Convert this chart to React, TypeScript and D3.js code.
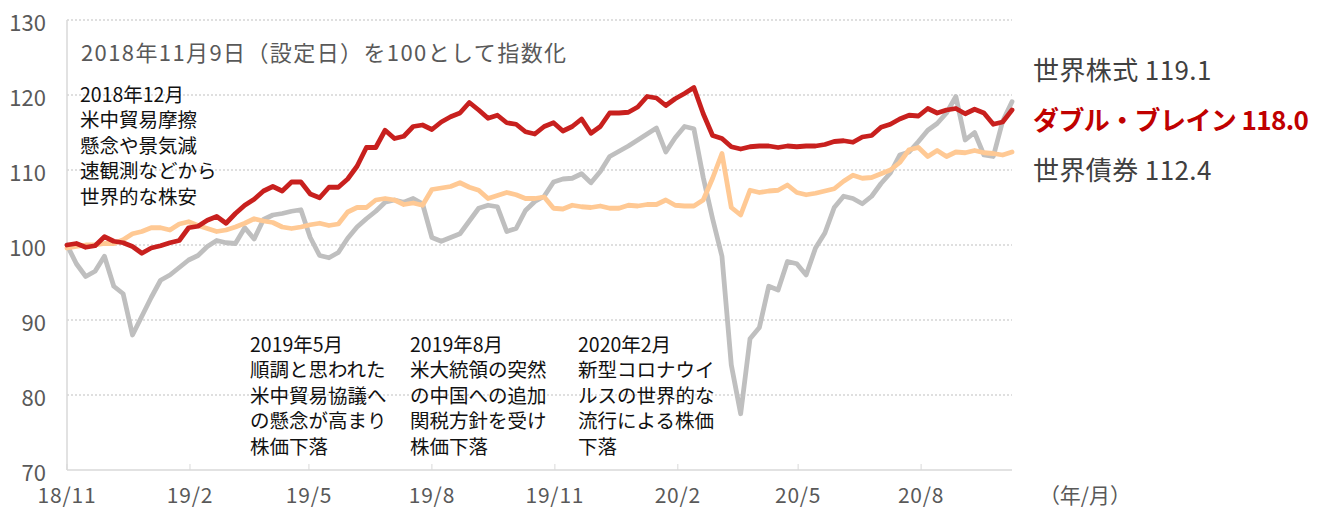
import React from "react";
import * as d3 from "d3";

const WIDTH = 1319;
const HEIGHT = 510;
const PLOT = { left: 67, right: 1012, top: 20, bottom: 470 };
const FONT = "'Noto Sans CJK JP', 'Noto Sans', sans-serif";

const START = new Date(2018, 10, 9);
const WEEKS = 101;

// 世界株式 (weekly, index 2018/11/9 = 100)
const stocks = [
  100.0, 97.5, 95.8, 96.5, 98.5, 94.5, 93.5, 88.0, 90.5, 93.0,
  95.3, 96.0, 97.0, 98.0, 98.6, 99.8, 100.6, 100.3, 100.2, 102.3,
  100.8, 103.4, 104.0, 104.2, 104.5, 104.7, 101.0, 98.6, 98.3, 99.0,
  100.9, 102.4, 103.5, 104.5, 105.7, 106.0, 105.7, 106.2, 105.5, 101.0,
  100.5, 101.0, 101.5, 103.2, 104.9, 105.3, 105.1, 101.8, 102.2, 104.6,
  105.8, 106.5, 108.4, 108.8, 108.9, 109.5, 108.3, 109.8, 111.8, 112.5,
  113.2, 114.0, 114.8, 115.6, 112.4, 114.3, 115.8, 115.5, 109.0, 103.5,
  98.5, 84.0, 77.5, 87.5, 89.0, 94.5, 94.0, 97.8, 97.5, 96.0,
  99.6, 101.6, 105.0, 106.5, 106.2, 105.5, 106.5, 108.2, 109.6, 112.0,
  112.4, 113.8, 115.3, 116.2, 117.6, 119.8, 114.0, 115.0, 112.0, 111.8,
  116.5, 119.1,
];

// ダブル・ブレイン
const doubleBrain = [
  100.0, 100.2, 99.7, 99.9, 101.1, 100.5, 100.3, 99.8, 98.9, 99.6,
  99.9, 100.3, 100.6, 102.3, 102.5, 103.3, 103.8, 102.9, 104.2, 105.3,
  106.1, 107.2, 107.8, 107.2, 108.4, 108.4, 106.8, 106.3, 107.7, 107.7,
  108.8, 110.5, 113.0, 113.0, 115.3, 114.2, 114.5, 115.8, 116.0, 115.4,
  116.4, 117.1, 117.6, 119.0, 118.0, 116.9, 117.3, 116.3, 116.1, 115.1,
  114.8, 115.8, 116.3, 115.2, 115.8, 116.8, 114.9, 115.8, 117.6, 117.6,
  117.7, 118.4, 119.8, 119.6, 118.6, 119.5, 120.2, 121.0, 117.5, 114.6,
  114.2, 113.1, 112.8, 113.1, 113.2, 113.2, 113.0, 113.2, 113.1, 113.2,
  113.2, 113.4, 113.8, 113.9, 113.7, 114.4, 114.6, 115.7, 116.1, 116.8,
  117.3, 117.2, 118.2, 117.6, 118.0, 118.2, 117.5, 118.1, 117.6, 116.1,
  116.4, 118.0,
];

// 世界債券
const bonds = [
  99.6, 99.8, 100.0, 100.0, 100.2, 100.2, 100.7, 101.5, 101.8, 102.3,
  102.3, 102.0, 102.8, 103.1, 102.6, 102.2, 101.8, 102.0, 102.4, 102.9,
  103.5, 103.2, 103.0, 102.4, 102.2, 102.4, 102.7, 102.9, 102.6, 102.8,
  104.4, 105.0, 105.0, 106.0, 106.2, 106.0, 105.4, 105.6, 105.3, 107.4,
  107.6, 107.8, 108.3, 107.7, 107.3, 106.2, 106.6, 107.0, 106.7, 106.2,
  106.2, 106.4, 104.9, 104.8, 105.3, 105.1, 105.0, 105.2, 104.9, 104.9,
  105.3, 105.2, 105.4, 105.4, 106.0, 105.3, 105.2, 105.2, 106.0, 108.9,
  112.2, 105.0, 104.0, 107.3, 107.0, 107.2, 107.3, 108.0, 107.0, 106.7,
  106.9, 107.2, 107.5, 108.5, 109.3, 108.9, 109.0, 109.5, 110.0, 111.0,
  112.7, 113.0, 111.8, 112.6, 111.8, 112.4, 112.3, 112.6, 112.3, 112.2,
  112.0, 112.4,
];

const yTicks = [70, 80, 90, 100, 110, 120, 130];
const xTickLabels = ["18/11", "19/2", "19/5", "19/8", "19/11", "20/2", "20/5", "20/8"];

const legendNames = ["世界株式", "ダブル・ブレイン", "世界債券"];
const legendValues = ["119.1", "118.0", "112.4"];

const notes = [
  ["2018年12月", "米中貿易摩擦", "懸念や景気減", "速観測などから", "世界的な株安"],
  ["2019年5月", "順調と思われた", "米中貿易協議へ", "の懸念が高まり", "株価下落"],
  ["2019年8月", "米大統領の突然", "の中国への追加", "関税方針を受け", "株価下落"],
  ["2020年2月", "新型コロナウイ", "ルスの世界的な", "流行による株価", "下落"],
];

const dates = d3.range(WEEKS + 1).map((i) => d3.timeDay.offset(START, i * 7));
const tickDates = xTickLabels.map((_, i) => d3.timeMonth.offset(START, i * 3));

export default function App() {
  const x = d3
    .scaleTime()
    .domain([START, dates[dates.length - 1]])
    .range([PLOT.left, PLOT.right]);
  const y = d3.scaleLinear().domain([70, 130]).range([PLOT.bottom, PLOT.top]);

  const line = d3
    .line<number>()
    .x((_, i) => x(dates[i]))
    .y((d) => y(d));

  const series = [
    { values: stocks, color: "#bfbfbf" },
    { values: bonds, color: "#ffc994" },
    { values: doubleBrain, color: "#c8201e" },
  ];

  const noteX = [80, 250, 410, 578];
  const noteY = [93, 343, 343, 343];

  return (
    <div style={{ position: "absolute", left: 0, top: 0 }}>
      <svg width={WIDTH} height={HEIGHT} style={{ display: "block", fontFamily: FONT }}>
        <rect width={WIDTH} height={HEIGHT} fill="#fff" />
        {yTicks.filter((t) => t > 70).map((t) => (
          <line key={t} x1={PLOT.left} x2={PLOT.right} y1={y(t)} y2={y(t)}
            stroke="#bfbfbf" strokeDasharray="2,2" strokeWidth={1} />
        ))}
        <line x1={PLOT.left} x2={PLOT.left} y1={PLOT.top} y2={PLOT.bottom} stroke="#d9d9d9" strokeWidth={1.5} />
        <line x1={PLOT.left} x2={PLOT.right} y1={PLOT.bottom} y2={PLOT.bottom} stroke="#d9d9d9" strokeWidth={1.5} />
        {tickDates.map((d, i) => (
          <g key={i}>
            <line x1={x(d)} x2={x(d)} y1={PLOT.bottom - 6} y2={PLOT.bottom} stroke="#d9d9d9" strokeWidth={1} />
            <text x={x(d)} y={503} textAnchor="middle" fontSize={21} fill="#595959" letterSpacing={0.8}>{xTickLabels[i]}</text>
          </g>
        ))}
        <text x={1085} y={503} textAnchor="middle" fontSize={21} fill="#595959">（年/月）</text>
        {yTicks.map((t) => (
          <text key={t} x={46} y={y(t) + 1} textAnchor="end" dominantBaseline="central" fontSize={22} fill="#595959">{t}</text>
        ))}

        {series.map((s, i) => (
          <path key={i} d={line(s.values) ?? ""} fill="none" stroke={s.color} strokeWidth={4.8}
            strokeLinejoin="round" strokeLinecap="round" />
        ))}

        <text x={81} y={51} dominantBaseline="central" fontSize={22} fill="#595959" letterSpacing={1.4}>2018年11月9日（設定日）を100として指数化</text>

        {notes.map((lines, k) => (
          <text key={k} fontSize={19.5} fill="#111">
            {lines.map((l, j) => (
              <tspan key={j} x={noteX[k]} y={noteY[k] + j * 25.5} dominantBaseline="central">{l}</tspan>
            ))}
          </text>
        ))}

        {legendNames.map((n, i) => (
          <text key={n} x={1033} y={68 + i * 50} dominantBaseline="central" fontSize={26}
            fill={i === 1 ? "#c00000" : "#404040"} fontWeight={i === 1 ? 700 : 400}
            letterSpacing={i === 1 ? -0.6 : 0.4}>
            {n} {legendValues[i]}
          </text>
        ))}
      </svg>
    </div>
  );
}
